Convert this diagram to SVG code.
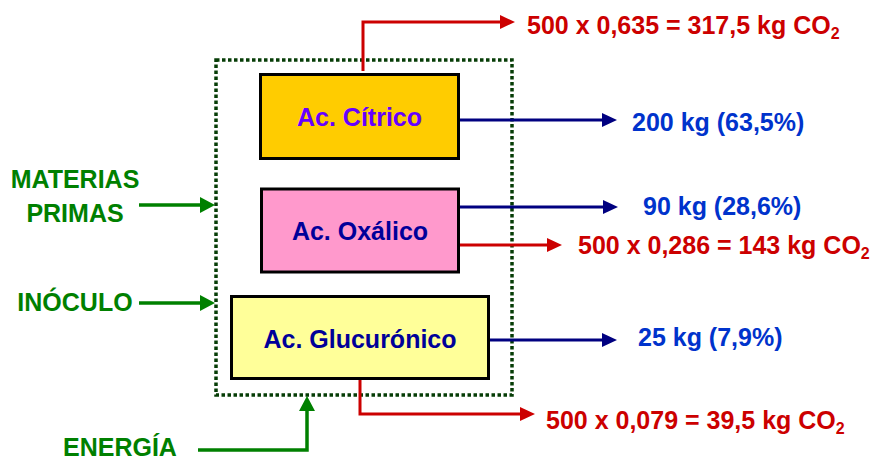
<svg xmlns="http://www.w3.org/2000/svg" width="875" height="460" viewBox="0 0 875 460">
  <defs>
    <style>
      text { font-family: "Liberation Sans", Arial, sans-serif; font-weight: bold; font-size: 25px; }
      .box { stroke: #000; stroke-width: 3; }
      .red { fill: #CC0000; }
      .blue { fill: #0033CC; }
      .green { fill: #008000; }
      .lred { fill: none; stroke: #CC0000; stroke-width: 3; marker-end: url(#ahRed); }
      .lblue { fill: none; stroke: #000080; stroke-width: 3; marker-end: url(#ahBlue); }
      .lgreen { fill: none; stroke: #008000; stroke-width: 3.5; marker-end: url(#ahGreen); }
      .sub { font-size: 16px; }
    </style>
    <marker id="ahRed" markerUnits="userSpaceOnUse" markerWidth="15" markerHeight="14" refX="3" refY="7" orient="auto">
      <path d="M0,0 L15,7 L0,14 z" fill="#CC0000"/>
    </marker>
    <marker id="ahBlue" markerUnits="userSpaceOnUse" markerWidth="15" markerHeight="14" refX="3" refY="7" orient="auto">
      <path d="M0,0 L15,7 L0,14 z" fill="#000080"/>
    </marker>
    <marker id="ahGreen" markerUnits="userSpaceOnUse" markerWidth="15" markerHeight="16" refX="3" refY="8" orient="auto">
      <path d="M0,0 L15,8 L0,16 z" fill="#008000"/>
    </marker>
  </defs>

  <!-- process boundary -->
  <rect id="boundary" x="216" y="60" width="296" height="335" fill="none" stroke="#063D06" stroke-width="3.5" stroke-dasharray="3.5 2.5"/>

  <!-- connectors -->
  <g id="connectors">
    <path class="lred" d="M363,71 V22 H503"/>
    <path class="lblue" d="M460,120 H605"/>
    <path class="lblue" d="M460,207 H606"/>
    <path class="lred" d="M457,245 H550"/>
    <path class="lblue" d="M490,340 H605"/>
    <path class="lred" d="M360,380 V414 H523"/>
    <path class="lgreen" d="M139,205 H203"/>
    <path class="lgreen" d="M139,303 H203"/>
    <path class="lgreen" d="M198,450 H307 V408"/>
  </g>

  <!-- products -->
  <g id="citrico">
    <rect class="box" x="260.5" y="74.5" width="198" height="84" fill="#FFCC00"/>
    <text x="359.5" y="126" text-anchor="middle" fill="#6600FF">Ac. Cítrico</text>
  </g>
  <g id="oxalico">
    <rect class="box" x="261.5" y="189" width="197" height="83" fill="#FF99CC"/>
    <text x="360" y="240" text-anchor="middle" fill="#000099">Ac. Oxálico</text>
  </g>
  <g id="glucuronico">
    <rect class="box" x="231.5" y="296.5" width="257" height="82" fill="#FFFF99"/>
    <text x="360" y="348" text-anchor="middle" fill="#000099">Ac. Glucurónico</text>
  </g>

  <!-- inputs -->
  <g id="materias-primas">
    <text class="green" x="75" y="188" text-anchor="middle">MATERIAS</text>
    <text class="green" x="75" y="222" text-anchor="middle">PRIMAS</text>
  </g>
  <g id="inoculo">
    <text class="green" x="75" y="311" text-anchor="middle">INÓCULO</text>
  </g>
  <g id="energia">
    <text class="green" x="63" y="456">ENERGÍA</text>
  </g>

  <!-- outputs -->
  <g id="co2-citrico">
    <text class="red" x="527" y="34">500 x 0,635 = 317,5 kg CO<tspan class="sub" dy="5">2</tspan></text>
  </g>
  <g id="masa-citrico">
    <text class="blue" x="632" y="131">200 kg (63,5%)</text>
  </g>
  <g id="masa-oxalico">
    <text class="blue" x="643" y="215">90 kg (28,6%)</text>
  </g>
  <g id="co2-oxalico">
    <text class="red" x="578" y="254">500 x 0,286 = 143 kg CO<tspan class="sub" dy="5">2</tspan></text>
  </g>
  <g id="masa-glucuronico">
    <text class="blue" x="638" y="346">25 kg (7,9%)</text>
  </g>
  <g id="co2-glucuronico">
    <text class="red" x="546" y="429">500 x 0,079 = 39,5 kg CO<tspan class="sub" dy="5">2</tspan></text>
  </g>
</svg>
